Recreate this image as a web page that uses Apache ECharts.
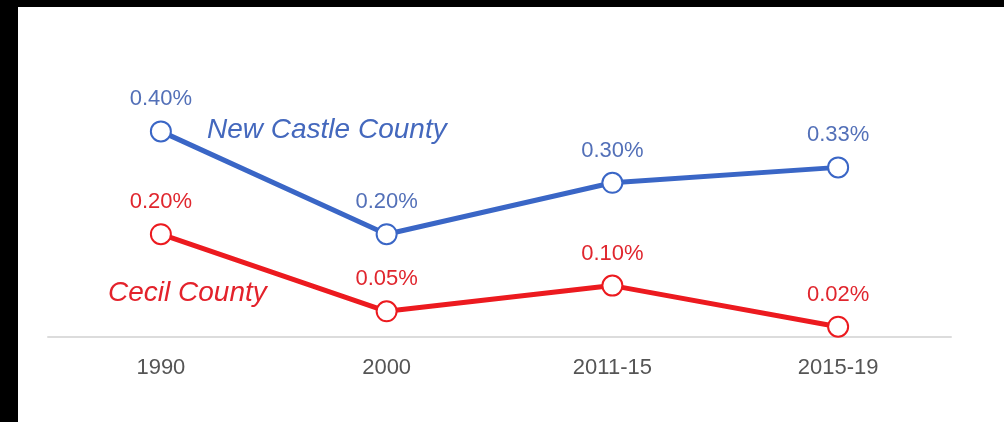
<!DOCTYPE html>
<html>
<head>
<meta charset="utf-8">
<script src="https://cdn.jsdelivr.net/npm/echarts@6/dist/echarts.min.js"></script>
<style>
html,body{margin:0;padding:0;background:#000;width:1004px;height:422px;overflow:hidden;}
#chart{position:absolute;left:18px;top:7px;width:986px;height:415px;background:#fff;}
</style>
</head>
<body>
<div id="chart"></div>
<script>
const categories = ['1990', '2000', '2011-15', '2015-19'];
const newCastle = [0.40, 0.20, 0.30, 0.33];
const cecil = [0.20, 0.05, 0.10, 0.02];
const seriesNames = ['New Castle County', 'Cecil County'];

const FONT = '"Liberation Sans", Arial, sans-serif';
const BLUE = '#3a66c6';
const RED = '#ec1a1f';

const chart = echarts.init(document.getElementById('chart'), null, {renderer: 'canvas'});

function mkSeries(name, data, color, labelColor) {
  return {
    name: name,
    type: 'line',
    data: data,
    symbol: 'circle',
    symbolSize: 20,
    itemStyle: {color: '#fff', borderColor: color, borderWidth: 2},
    lineStyle: {color: color, width: 5},
    label: {
      show: true,
      position: 'top',
      distance: 10,
      color: labelColor,
      fontSize: 22,
      fontFamily: FONT,
      formatter: p => p.value.toFixed(2) + '%'
    },
    emphasis: {disabled: true},
    animation: false,
    z: 3
  };
}

chart.setOption({
  animation: false,
  grid: {left: 30, right: 53, top: 21.6, bottom: 85},
  xAxis: {
    type: 'category',
    data: categories,
    boundaryGap: true,
    axisLine: {lineStyle: {color: '#dcdcdc', width: 2}},
    axisTick: {show: false},
    axisLabel: {color: '#555', fontSize: 22, fontFamily: FONT, margin: 20}
  },
  yAxis: {
    type: 'value',
    min: 0, max: 0.6, interval: 0.1,
    show: false,
    splitLine: {show: false}
  },
  series: [
    mkSeries(seriesNames[0], newCastle, BLUE, '#5370b8'),
    mkSeries(seriesNames[1], cecil, RED, '#e0262e')
  ],
  graphic: [
    {type: 'text', left: 189, top: 109, style: {text: seriesNames[0], fill: '#4468bd', font: 'italic 28px ' + FONT}},
    {type: 'text', left: 90, top: 272, style: {text: seriesNames[1], fill: '#e3222b', font: 'italic 28px ' + FONT}}
  ]
});
</script>
</body>
</html>
